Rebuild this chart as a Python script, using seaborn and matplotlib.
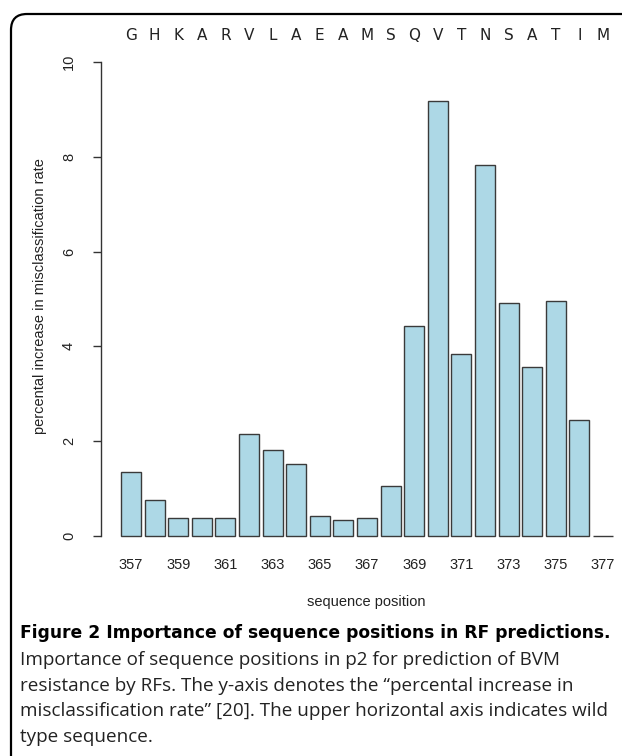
import matplotlib
matplotlib.use("Agg")
import matplotlib.pyplot as plt
from matplotlib.patches import FancyBboxPatch
from matplotlib.transforms import IdentityTransform
import seaborn as sns
import pandas as pd

positions = [str(p) for p in range(357, 378)]
importance = [1.35, 0.77, 0.37, 0.39, 0.38, 2.16, 1.82, 1.51, 0.43, 0.34, 0.39,
              1.06, 4.43, 9.18, 3.85, 7.82, 4.92, 3.57, 4.96, 2.45, 0.0]
wild_type = ["G", "H", "K", "A", "R", "V", "L", "A", "E", "A", "M",
             "S", "Q", "V", "T", "N", "S", "A", "T", "I", "M"]
y_ticks = [0, 2, 4, 6, 8, 10]

caption_title = "Figure 2 Importance of sequence positions in RF predictions."
caption_lines = [
    "Importance of sequence positions in p2 for prediction of BVM",
    "resistance by RFs. The y-axis denotes the \u201cpercental increase in",
    "misclassification rate\u201d [20]. The upper horizontal axis indicates wild",
    "type sequence.",
]

df = pd.DataFrame({"position": positions, "importance": importance})

sns.set_theme(style="white")
plt.rcParams["font.family"] = ["Liberation Sans", "DejaVu Sans"]

W, H = 622, 756
fig = plt.figure(figsize=(W / 100, H / 100), dpi=100)
ax_left, ax_right, ax_top, ax_bot = 101, 620, 62, 536
ax = fig.add_axes([ax_left / W, 1 - ax_bot / H, (ax_right - ax_left) / W, (ax_bot - ax_top) / H])

sns.barplot(data=df, x="position", y="importance", order=positions,
            color="#ADD8E6", saturation=1, edgecolor="#3a3a3a", linewidth=1.0,
            width=0.85, ax=ax)
for p in ax.patches:
    p.set_clip_on(False)

step = 23.6
x0 = (ax_left - 131) / step
x1 = x0 + (ax_right - ax_left) / step
ax.set_xlim(x0, x1)
ax.set_ylim(0, 10)

for s in ["top", "right", "bottom"]:
    ax.spines[s].set_visible(False)
ax.spines["left"].set_bounds(0, 10)
ax.spines["left"].set_color("#333333")
ax.spines["left"].set_linewidth(1.0)

ax.set_yticks(y_ticks)
ax.set_yticklabels([str(t) for t in y_ticks], rotation=90, va="center", fontsize=10.5, color="#222222")
ax.tick_params(axis="y", left=True, length=6, width=1, color="#333333", pad=12)

xt = list(range(0, len(positions), 2))
ax.set_xticks(xt)
ax.set_xticklabels([positions[i] for i in xt], fontsize=10.5, color="#222222")
ax.tick_params(axis="x", bottom=False, length=0, pad=16)

ax.set_xlabel("")
ax.set_ylabel("")

# upper axis: wild type sequence
ax2 = ax.twiny()
ax2.set_xlim(ax.get_xlim())
ax2.set_xticks(range(len(wild_type)))
ax2.set_xticklabels(wild_type, fontsize=11, family="DejaVu Sans", color="#222222")
ax2.tick_params(axis="x", top=False, length=0, pad=14)
for s in ax2.spines.values():
    s.set_visible(False)
ax2.grid(False)

fig.text(366 / W, 1 - 602 / H, "sequence position", ha="center", va="center",
         fontsize=10.5, color="#222222")
fig.text(40 / W, 1 - 296 / H, "percental increase in misclassification rate",
         ha="center", va="center", rotation=90, fontsize=10.5, color="#222222")

# caption
fig.text(20 / W, 1 - 633 / H, caption_title, ha="left", va="center",
         fontsize=12.3, fontweight="bold", family="DejaVu Sans", color="black")
for k, line in enumerate(caption_lines):
    fig.text(20 / W, 1 - (660 + 25.7 * k) / H, line, ha="left", va="center",
             fontsize=13.6, family="Open Sans", color="#222222")

# rounded frame
frame = FancyBboxPatch((11, -60), 700, (H - 14) + 60,
                       boxstyle="round,pad=0,rounding_size=16",
                       transform=IdentityTransform(), fill=False,
                       edgecolor="black", linewidth=1.6)
fig.add_artist(frame)

fig.savefig("out.png", dpi=100)
